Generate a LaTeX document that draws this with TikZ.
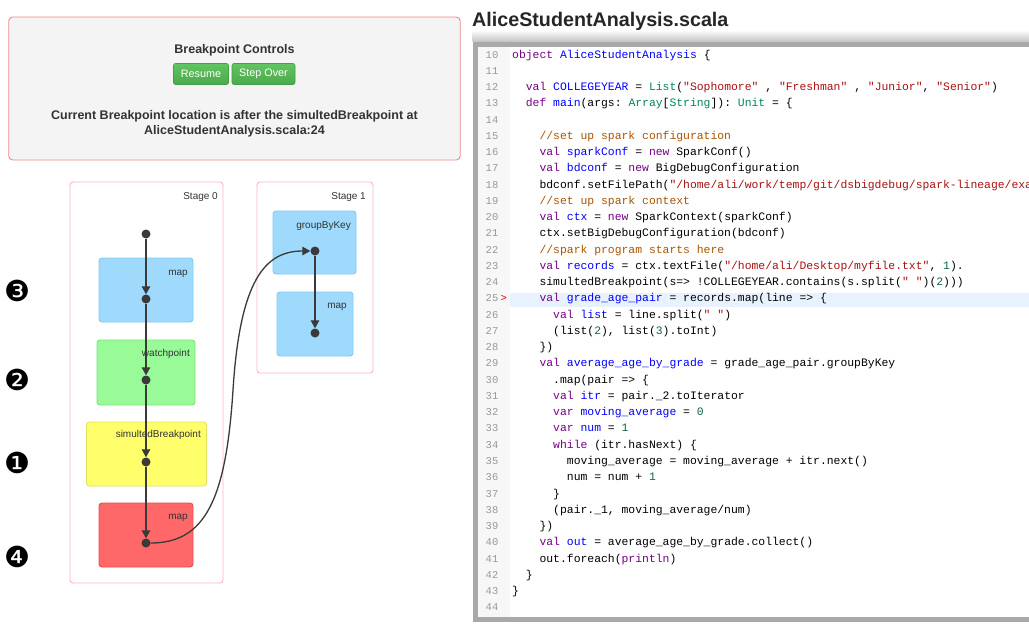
\documentclass[tikz,border=0pt]{standalone}
\usepackage{fontspec}
\setmainfont{Liberation Sans}
\setmonofont{Liberation Mono}
\newfontfamily\dejavu{DejaVu Sans}
\usetikzlibrary{arrows.meta}

\definecolor{kwc}{HTML}{770088}
\definecolor{dfc}{HTML}{0000FF}
\definecolor{stc}{HTML}{AA1111}
\definecolor{cmc}{HTML}{AA5500}
\definecolor{nmc}{HTML}{116644}
\definecolor{tyc}{HTML}{008855}
\definecolor{codec}{HTML}{000000}
\definecolor{lnc}{HTML}{999999}
\definecolor{framec}{HTML}{A9A9A9}
\definecolor{gutterc}{HTML}{F7F7F7}
\definecolor{hlc}{HTML}{E8F2FF}
\definecolor{panelc}{HTML}{F4F4F4}
\definecolor{panelb}{HTML}{F08A8A}
\definecolor{stagec}{HTML}{FFB3C3}
\definecolor{bluef}{HTML}{9FDAFD}
\definecolor{blueb}{HTML}{7DCBFA}
\definecolor{greenf}{HTML}{98FB98}
\definecolor{greenb}{HTML}{7EE07E}
\definecolor{yellowf}{HTML}{FFFF6B}
\definecolor{yellowb}{HTML}{E2E25C}
\definecolor{redf}{HTML}{FF6868}
\definecolor{redb}{HTML}{F04A4A}
\definecolor{dotc}{HTML}{3A3A3A}
\definecolor{linec}{HTML}{3A3A3A}
\definecolor{uitext}{HTML}{333333}
\definecolor{btntop}{HTML}{62C462}
\definecolor{btnbot}{HTML}{4CA84C}
\definecolor{btnb}{HTML}{45A045}

\newcommand\Kw[1]{\textcolor{kwc}{#1}}
\newcommand\Df[1]{\textcolor{dfc}{#1}}
\newcommand\St[1]{\textcolor{stc}{#1}}
\newcommand\Cm[1]{\textcolor{cmc}{#1}}
\newcommand\Nm[1]{\textcolor{nmc}{#1}}
\newcommand\Ty[1]{\textcolor{tyc}{#1}}
\newcommand\codeln[3]{%
  \node[codetext] (c#1) at ({512+#2*6.84},{58+(#1-10)*16.26}) {#3};}

\tikzset{
  codetext/.style={anchor=base west, inner sep=0, text=codec,
    font=\ttfamily\fontsize{11.4}{13}\selectfont},
  lnum/.style={anchor=base east, inner sep=0, text=lnc,
    font=\ttfamily\fontsize{10.5}{12}\selectfont},
  dot/.style={circle, fill=dotc, inner sep=0, minimum size=9pt},
  flow/.style={draw=linec, line width=1.3pt, -{Triangle[length=8pt,width=8.5pt]}},
  stagebox/.style={draw=stagec, line width=0.9pt, fill=white, rounded corners=3pt, inner sep=0},
  opbox/.style={rounded corners=3pt, line width=0.9pt, inner sep=0},
  oplabel/.style={anchor=base east, inner sep=0, text=uitext, font=\fontsize{10}{12}\selectfont},
  btn/.style={top color=btntop, bottom color=btnbot, draw=btnb, line width=0.6pt,
    rounded corners=2pt, text=white, inner sep=0, minimum height=21pt,
    font=\fontsize{10.8}{12}\selectfont},
  uititle/.style={anchor=base, inner sep=0, text=uitext, font=\bfseries\fontsize{12.5}{15}\selectfont},
  num/.style={inner sep=0, font=\dejavu\fontsize{29}{30}\selectfont},
}

\begin{document}
\begin{tikzpicture}[x=1pt,y=-1pt]
\useasboundingbox (0,0) rectangle (1029,629);
\fill[white] (0,0) rectangle (1029,629);

% ---------- control panel ----------
\node[draw=panelb, fill=panelc, line width=0.9pt, rounded corners=4pt, inner sep=0,
  minimum width=451.5pt, minimum height=143pt] (panel) at (234.5,88.5) {};
\node[uititle] (bctitle) at (234.5,53) {Breakpoint Controls};
\node[btn, minimum width=55pt] (resume) at (201,74) {Resume};
\node[btn, minimum width=63pt] (stepover) at (263.5,74) {Step Over};
\node[uititle] (loc1) at (234.5,119) {Current Breakpoint location is after the simultedBreakpoint at};
\node[uititle] (loc2) at (234.5,134) {AliceStudentAnalysis.scala:24};

% ---------- stages ----------
\node[stagebox, minimum width=153pt, minimum height=401pt] (stage0) at (146.5,382.5) {};
\node[stagebox, minimum width=116pt, minimum height=191pt] (stage1) at (315,277.5) {};
\node[oplabel] (s0lab) at (218,199) {Stage 0};
\node[oplabel] (s1lab) at (366,199) {Stage 1};

\node[opbox, fill=bluef, draw=blueb, minimum width=94pt, minimum height=64pt] (map0) at (146,290) {};
\node[opbox, fill=greenf, draw=greenb, minimum width=98pt, minimum height=65pt] (watch) at (146,372.5) {};
\node[opbox, fill=yellowf, draw=yellowb, minimum width=120pt, minimum height=64pt] (simb) at (146.5,454) {};
\node[opbox, fill=redf, draw=redb, minimum width=94pt, minimum height=64pt] (map1) at (146,535) {};
\node[opbox, fill=bluef, draw=blueb, minimum width=83pt, minimum height=63pt] (gbk) at (314.5,242.5) {};
\node[opbox, fill=bluef, draw=blueb, minimum width=76pt, minimum height=64pt] (map2) at (315,324) {};

\node[oplabel] (map0lab) at (188,275) {map};
\node[oplabel] (watchlab) at (190,356) {watchpoint};
\node[oplabel] (simblab) at (201,437) {simultedBreakpoint};
\node[oplabel] (map1lab) at (188,519) {map};
\node[oplabel] (gbklab) at (351,228) {groupByKey};
\node[oplabel] (map2lab) at (347,308) {map};

\node[dot] (d0) at (146,234) {};
\node[dot] (d1) at (146,299) {};
\node[dot] (d2) at (146,380) {};
\node[dot] (d3) at (146,462) {};
\node[dot] (d4) at (146,543) {};
\node[dot] (g0) at (315,251) {};
\node[dot] (g1) at (315,333) {};

\draw[flow] (d0) -- (d1);
\draw[flow] (d1) -- (d2);
\draw[flow] (d2) -- (d3);
\draw[flow] (d3) -- (d4);
\draw[flow] (g0) -- (g1);
\coordinate (mid) at (233,390);
\draw[flow] (d4) .. controls (205,543) and (226,500) .. (mid)
  .. controls (240,280) and (265,251) .. (g0);

\node[num] (n3) at (17,291) {❸};
\node[num] (n2) at (17,380) {❷};
\node[num] (n1) at (17,463) {❶};
\node[num] (n4) at (17,557) {❹};

% ---------- editor ----------
\shade[top color=white, bottom color=black!24] (472.5,30) rectangle (1029,41.8);
\node[anchor=base west, inner sep=0, text=black!85, font=\bfseries\fontsize{19.7}{22}\selectfont]
  (title) at (472,27) {AliceStudentAnalysis.scala};
\fill[white] (478,46.5) rectangle (1029,617);
\fill[gutterc] (478,46.5) rectangle (510,617);
\fill[framec] (472.5,41.7) rectangle (1029,46.7);
\fill[framec] (472.5,41.7) rectangle (478.3,622.3);
\fill[framec] (472.5,617) rectangle (1029,622.3);
\fill[hlc] (510,292.7) rectangle (1029,306.7);

\foreach \i in {10,...,44} {
  \node[lnum] (n\i) at (498.5,{58+(\i-10)*16.26}) {\i};
}
\node[anchor=base west, inner sep=0, text=red!90!black,
  font=\ttfamily\fontsize{10.5}{12}\selectfont] (marker) at (500.5,301.9) {>};

\begin{scope}
\clip (510,46.7) rectangle (1029,617);
\codeln{10}{0}{\Kw{object} \Df{AliceStudentAnalysis} \{}
\codeln{12}{2}{\Kw{val} \Df{COLLEGEYEAR} = \Ty{List}(\St{"Sophomore"} , \St{"Freshman"} , \St{"Junior"}, \St{"Senior"})}
\codeln{13}{2}{\Kw{def} \Df{main}(args: \Ty{Array}[\Ty{String}]): \Ty{Unit} = \{}
\codeln{15}{4}{\Cm{//set up spark configuration}}
\codeln{16}{4}{\Kw{val} \Df{sparkConf} = \Kw{new} SparkConf()}
\codeln{17}{4}{\Kw{val} \Df{bdconf} = \Kw{new} BigDebugConfiguration}
\codeln{18}{4}{bdconf.setFilePath(\St{"/home/ali/work/temp/git/dsbigdebug/spark-lineage/exa}}
\codeln{19}{4}{\Cm{//set up spark context}}
\codeln{20}{4}{\Kw{val} \Df{ctx} = \Kw{new} SparkContext(sparkConf)}
\codeln{21}{4}{ctx.setBigDebugConfiguration(bdconf)}
\codeln{22}{4}{\Cm{//spark program starts here}}
\codeln{23}{4}{\Kw{val} \Df{records} = ctx.textFile(\St{"/home/ali/Desktop/myfile.txt"}, \Nm{1}).}
\codeln{24}{4}{simultedBreakpoint(s=> !COLLEGEYEAR.contains(s.split(\St{" "})(\Nm{2})))}
\codeln{25}{4}{\Kw{val} \Df{grade\_age\_pair} = records.map(line => \{}
\codeln{26}{6}{\Kw{val} \Df{list} = line.split(\St{" "})}
\codeln{27}{6}{(list(\Nm{2}), list(\Nm{3}).toInt)}
\codeln{28}{4}{\})}
\codeln{29}{4}{\Kw{val} \Df{average\_age\_by\_grade} = grade\_age\_pair.groupByKey}
\codeln{30}{6}{.map(pair => \{}
\codeln{31}{6}{\Kw{val} \Df{itr} = pair.\_2.toIterator}
\codeln{32}{6}{\Kw{var} \Df{moving\_average} = \Nm{0}}
\codeln{33}{6}{\Kw{var} \Df{num} = \Nm{1}}
\codeln{34}{6}{\Kw{while} (itr.hasNext) \{}
\codeln{35}{8}{moving\_average = moving\_average + itr.next()}
\codeln{36}{8}{num = num + \Nm{1}}
\codeln{37}{6}{\}}
\codeln{38}{6}{(pair.\_1, moving\_average/num)}
\codeln{39}{4}{\})}
\codeln{40}{4}{\Kw{val} \Df{out} = average\_age\_by\_grade.collect()}
\codeln{41}{4}{out.foreach(\Kw{println})}
\codeln{42}{2}{\}}
\codeln{43}{0}{\}}
\end{scope}
\end{tikzpicture}
\end{document}
